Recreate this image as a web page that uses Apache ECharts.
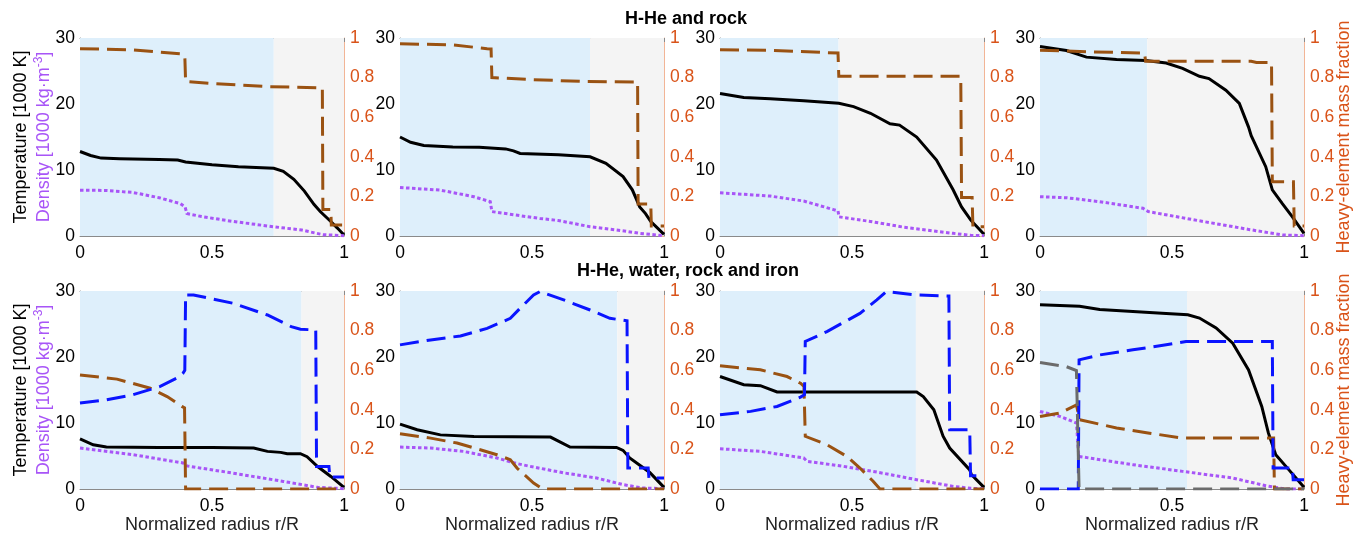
<!DOCTYPE html>
<html>
<head>
<meta charset="utf-8">
<title>Interior profiles</title>
<script src="https://cdn.jsdelivr.net/npm/echarts/dist/echarts.min.js"></script>
<style>
  html, body { margin: 0; padding: 0; background: #ffffff; }
  #chart { width: 1368px; height: 535px; }
</style>
</head>
<body>
<div id="chart"></div>
<script>
// ---- Profiles: [normalized radius r/R, value] ----
// Temperature in 1000 K, density in 1000 kg/m^3 (left axis); mass fractions (right axis)

// Row 1: H-He and rock
const temperature1 = [[0,12.8],[0.04,12.2],[0.08,11.8],[0.15,11.7],[0.3,11.6],[0.37,11.5],[0.4,11.2],[0.5,10.8],[0.6,10.5],[0.734,10.25],[0.77,9.8],[0.81,8.6],[0.85,6.8],[0.886,4.8],[0.91,3.7],[0.95,2.2],[0.975,1.2],[1,0.15]];
const density1 = [[0,6.95],[0.1,6.9],[0.2,6.6],[0.3,5.8],[0.38,4.9],[0.398,4.4],[0.405,3.4],[0.46,2.95],[0.58,2.2],[0.734,1.4],[0.84,0.9],[0.92,0.2],[1,0.05]];
const rock1 = [[0,0.946],[0.2,0.94],[0.38,0.92],[0.397,0.91],[0.4,0.78],[0.5,0.77],[0.7,0.755],[0.918,0.748],[0.92,0.134],[0.95,0.134],[0.952,0.055],[1,0.055]];

const temperature2 = [[0,15.0],[0.04,14.2],[0.09,13.7],[0.2,13.5],[0.3,13.45],[0.4,13.2],[0.43,12.9],[0.455,12.5],[0.6,12.3],[0.72,12.0],[0.78,11.0],[0.845,9.0],[0.88,7.0],[0.908,4.4],[0.93,3.4],[0.95,2.2],[1,0.25]];
const density2 = [[0,7.35],[0.153,6.95],[0.28,5.95],[0.342,5.2],[0.348,3.7],[0.53,2.65],[0.6,2.35],[0.72,1.4],[0.85,0.75],[0.908,0.4],[1,0.05]];
const rock2 = [[0,0.971],[0.2,0.965],[0.33,0.946],[0.345,0.945],[0.348,0.80],[0.5,0.79],[0.7,0.78],[0.9,0.778],[0.902,0.161],[0.95,0.161],[0.952,0.05],[1,0.05]];

const temperature3 = [[0,21.6],[0.09,21.0],[0.19,20.8],[0.317,20.5],[0.45,20.1],[0.506,19.6],[0.57,18.6],[0.644,17.0],[0.68,16.8],[0.745,15.0],[0.82,11.5],[0.883,7.0],[0.915,4.4],[0.95,2.4],[1,0.25]];
const density3 = [[0,6.55],[0.19,6.05],[0.317,5.3],[0.43,4.0],[0.447,3.8],[0.451,2.9],[0.57,2.2],[0.694,1.35],[0.883,0.4],[0.95,0.1],[1,0.05]];
const rock3 = [[0,0.941],[0.2,0.937],[0.447,0.924],[0.45,0.807],[0.7,0.807],[0.912,0.807],[0.915,0.195],[0.955,0.195],[0.958,0.047],[1,0.047]];

const temperature4 = [[0,28.7],[0.1,28.1],[0.176,27.1],[0.29,26.75],[0.4,26.6],[0.478,26.2],[0.54,25.4],[0.604,24.2],[0.64,23.85],[0.704,22.1],[0.755,20.1],[0.79,16.5],[0.8,15.2],[0.855,10.5],[0.88,7.0],[0.918,4.9],[0.956,2.9],[1,0.4]];
const density4 = [[0,5.95],[0.1,5.8],[0.226,5.2],[0.39,4.2],[0.41,3.7],[0.604,2.3],[0.79,1.0],[0.918,0.15],[1,0.05]];
const rock4 = [[0,0.938],[0.2,0.93],[0.396,0.924],[0.4,0.882],[0.6,0.882],[0.8,0.882],[0.82,0.876],[0.877,0.876],[0.88,0.274],[0.96,0.274],[0.963,0.05],[1,0.05]];

// Row 2: H-He, water, rock and iron
const temperature5 = [[0,7.6],[0.05,6.7],[0.1,6.35],[0.3,6.3],[0.5,6.3],[0.658,6.2],[0.71,5.7],[0.76,5.55],[0.785,5.35],[0.835,5.35],[0.86,4.9],[0.9,3.4],[0.95,1.9],[1,0.25]];
const density5 = [[0,6.2],[0.2,5.2],[0.39,3.95],[0.405,3.5],[0.58,2.4],[0.77,1.15],[0.9,0.25],[1,0.05]];
const rock5 = [[0,0.576],[0.14,0.555],[0.266,0.509],[0.33,0.467],[0.386,0.417],[0.396,0.41],[0.4,0],[1,0]];
const water5 = [[0,0.434],[0.1,0.45],[0.2,0.476],[0.304,0.518],[0.367,0.56],[0.39,0.585],[0.397,0.6],[0.4,0.98],[0.43,0.98],[0.58,0.938],[0.71,0.879],[0.8,0.82],[0.835,0.807],[0.893,0.803],[0.896,0.114],[0.943,0.114],[0.946,0.06],[1,0.06]];

const temperature6 = [[0,9.83],[0.065,8.98],[0.153,8.2],[0.28,7.97],[0.57,7.87],[0.644,6.35],[0.82,6.3],[0.845,5.85],[0.87,4.7],[0.946,2.5],[1,0.25]];
const density6 = [[0,6.35],[0.116,6.2],[0.24,5.7],[0.367,4.7],[0.443,3.85],[0.49,3.45],[0.62,2.45],[0.745,1.66],[0.845,0.66],[0.92,0.15],[1,0.05]];
const rock6 = [[0,0.279],[0.116,0.257],[0.216,0.232],[0.304,0.198],[0.367,0.173],[0.418,0.148],[0.443,0.106],[0.506,0.03],[0.54,0],[1,0]];
const water6 = [[0,0.728],[0.116,0.753],[0.229,0.773],[0.33,0.811],[0.418,0.862],[0.455,0.913],[0.506,0.98],[0.53,0.997],[0.62,0.955],[0.72,0.904],[0.795,0.862],[0.86,0.85],[0.863,0.106],[0.94,0.106],[0.943,0.055],[1,0.055]];

const temperature7 = [[0,17.05],[0.09,15.8],[0.153,15.65],[0.216,14.7],[0.5,14.7],[0.745,14.7],[0.77,14.0],[0.81,12.0],[0.845,8.0],[0.87,6.2],[0.946,2.9],[0.952,2.2],[1,0.25]];
const density7 = [[0,6.1],[0.153,5.7],[0.317,4.7],[0.33,4.2],[0.468,3.43],[0.594,2.57],[0.745,1.41],[0.883,0.4],[0.95,0.1],[1,0.05]];
const rock7 = [[0,0.622],[0.153,0.602],[0.254,0.568],[0.305,0.534],[0.318,0.518],[0.323,0.266],[0.405,0.224],[0.48,0.165],[0.53,0.106],[0.58,0.039],[0.606,0],[1,0]];
const water7 = [[0,0.375],[0.116,0.392],[0.216,0.417],[0.305,0.464],[0.32,0.476],[0.323,0.745],[0.405,0.795],[0.53,0.887],[0.594,0.955],[0.63,0.997],[0.745,0.98],[0.867,0.975],[0.87,0.299],[0.946,0.299],[0.949,0.067],[1,0.067]];

const temperature8 = [[0,27.9],[0.15,27.7],[0.226,27.2],[0.352,26.9],[0.478,26.6],[0.56,26.4],[0.604,25.9],[0.667,24.4],[0.73,22.1],[0.79,18.05],[0.84,12.5],[0.865,8.5],[0.893,5.2],[0.943,2.9],[1,0.25]];
const density8 = [[0,11.75],[0.075,11.0],[0.138,10.0],[0.147,4.94],[0.352,3.68],[0.54,2.67],[0.73,1.66],[0.855,0.5],[0.93,0],[1,0]];
const rock8 = [[0,0.366],[0.075,0.383],[0.138,0.425],[0.145,0.43],[0.15,0.35],[0.29,0.308],[0.415,0.282],[0.54,0.257],[0.885,0.257],[0.888,0],[1,0]];
const water8 = [[0,0],[0.145,0],[0.148,0.652],[0.226,0.677],[0.352,0.703],[0.478,0.728],[0.553,0.745],[0.88,0.745],[0.883,0.106],[0.956,0.106],[0.959,0.047],[1,0.047]];
const iron8 = [[0,0.639],[0.1,0.618],[0.138,0.598],[0.148,0],[1,0]];

// Outer edge of the convective (shaded blue) region, r/R
const convectiveEdge = [0.734, 0.72, 0.449, 0.406, 0.839, 0.823, 0.742, 0.557];

const rowTitles = ['H-He and rock', 'H-He, water, rock and iron'];
const xTicks = [0, 0.5, 1];

// ---- Styling ----
const FONT = '"Liberation Sans", Helvetica, Arial, sans-serif';
const C_TEMP = '#000000';
const C_DENS = '#A855F7';
const C_ROCK = '#9A5212';
const C_WATER = '#0A14FF';
const C_IRON = '#6B6B6B';
const C_RIGHT = '#D95319';
const C_SPINE = '#8a8a8a';
const C_SPINE_R = '#F2B596';
const BG_CONV = '#DEEFFB';
const BG_RAD = '#F4F4F4';
const TICK_FS = 17.5;

const panels = [
  { temp: temperature1, dens: density1, rock: rock1 },
  { temp: temperature2, dens: density2, rock: rock2 },
  { temp: temperature3, dens: density3, rock: rock3 },
  { temp: temperature4, dens: density4, rock: rock4 },
  { temp: temperature5, dens: density5, rock: rock5, water: water5 },
  { temp: temperature6, dens: density6, rock: rock6, water: water6 },
  { temp: temperature7, dens: density7, rock: rock7, water: water7 },
  { temp: temperature8, dens: density8, rock: rock8, water: water8, iron: iron8 }
];

const gridLefts = [80, 400, 720, 1040];
const gridTops = [38, 291];
const GRID_W = 264, GRID_H = 198;

const grids = [], xAxes = [], yAxes = [], series = [];

panels.forEach((p, i) => {
  const row = Math.floor(i / 4), col = i % 4;
  grids.push({ left: gridLefts[col], top: gridTops[row], width: GRID_W, height: GRID_H });

  const tickStyle = { show: true, inside: true, length: 4, lineStyle: { color: C_SPINE, width: 1 } };
  xAxes.push({
    gridIndex: i, type: 'value', min: xTicks[0], max: xTicks[xTicks.length - 1], interval: 0.5,
    position: 'bottom',
    axisLine: { show: true, onZero: false, lineStyle: { color: C_SPINE, width: 1 } },
    axisTick: tickStyle,
    splitLine: { show: false },
    axisLabel: { color: '#000', fontSize: TICK_FS, fontFamily: FONT, margin: 8 },
    name: row === 1 ? 'Normalized radius r/R' : '',
    nameLocation: 'middle', nameGap: 27,
    nameTextStyle: { color: '#222', fontSize: 18, fontFamily: FONT }
  });
  xAxes.push({
    gridIndex: i, type: 'value', min: 0, max: 1, interval: 0.5, position: 'top',
    axisLine: { show: true, onZero: false, lineStyle: { color: C_SPINE, width: 1 } },
    axisTick: tickStyle, axisLabel: { show: false }, splitLine: { show: false }
  });
  yAxes.push({
    gridIndex: i, type: 'value', min: 0, max: 30, interval: 10, position: 'left',
    axisLine: { show: true, onZero: false, lineStyle: { color: C_SPINE, width: 1 } },
    axisTick: tickStyle, splitLine: { show: false },
    axisLabel: { color: '#000', fontSize: TICK_FS, fontFamily: FONT, margin: 5 }
  });
  yAxes.push({
    gridIndex: i, type: 'value', min: 0, max: 1, interval: 0.2, position: 'right',
    axisLine: { show: true, onZero: false, lineStyle: { color: C_SPINE_R, width: 1 } },
    axisTick: { show: true, inside: true, length: 4, lineStyle: { color: C_SPINE_R, width: 1 } },
    splitLine: { show: false },
    axisLabel: { color: C_RIGHT, fontSize: TICK_FS, fontFamily: FONT, margin: 6 }
  });

  const xl = 2 * i, yl = 2 * i, yr = 2 * i + 1;
  const edge = convectiveEdge[i];

  // shaded convective / radiative regions
  series.push({
    type: 'line', xAxisIndex: xl, yAxisIndex: yl, data: [], z: 1, silent: true,
    markArea: {
      silent: true,
      data: [
        [{ xAxis: 0, itemStyle: { color: BG_CONV } }, { xAxis: edge }],
        [{ xAxis: edge, itemStyle: { color: BG_RAD } }, { xAxis: 1 }]
      ]
    }
  });

  const line = (data, yIdx, color, type, width, z) => ({
    type: 'line', xAxisIndex: xl, yAxisIndex: yIdx, data: data, z: z,
    symbol: 'none', showSymbol: false, silent: true,
    lineStyle: { color: color, width: width, type: type, cap: 'butt', join: 'miter' }
  });

  series.push(line(p.temp, yl, C_TEMP, 'solid', 3, 3));
  series.push(line(p.dens, yl, C_DENS, [3.5, 2.5], 3, 4));
  series.push(line(p.rock, yr, C_ROCK, [19, 8], 3, 5));
  if (p.water) series.push(line(p.water, yr, C_WATER, [19, 8], 3, 6));
  if (p.iron) series.push(line(p.iron, yr, C_IRON, [19, 8], 3, 7));
});

// Axis titles and row headings
const graphics = [];
const rowCenters = gridTops.map(t => t + GRID_H / 2);
const leftRich = {
  t: { fill: '#000', fontSize: 18, fontFamily: FONT, lineHeight: 23 },
  d: { fill: C_DENS, fontSize: 18, fontFamily: FONT, lineHeight: 23 },
  s: { fill: C_DENS, fontSize: 12, fontFamily: FONT, lineHeight: 9, verticalAlign: 'top' }
};
rowCenters.forEach((cy, r) => {
  graphics.push({
    type: 'text', x: 33, y: cy, rotation: Math.PI / 2, silent: true,
    style: {
      text: '{t|Temperature [1000 K]}\n{d|Density [1000 kg·m}{s|-3}{d|]}',
      rich: leftRich, align: 'center', verticalAlign: 'middle'
    }
  });
  graphics.push({
    type: 'text', x: 1344, y: cy, rotation: Math.PI / 2, silent: true,
    style: {
      text: 'Heavy-element mass fraction', fill: C_RIGHT, fontSize: 18, fontFamily: FONT,
      align: 'center', verticalAlign: 'middle'
    }
  });
  graphics.push({
    type: 'text', x: r === 0 ? 686 : 688, y: r === 0 ? 19 : 271, silent: true,
    style: {
      text: rowTitles[r], fill: '#000', fontSize: 18, fontWeight: 'bold', fontFamily: FONT,
      align: 'center', verticalAlign: 'middle'
    }
  });
});

const chart = echarts.init(document.getElementById('chart'), null, { renderer: 'canvas' });
chart.setOption({
  animation: false,
  backgroundColor: '#ffffff',
  textStyle: { fontFamily: FONT },
  grid: grids,
  xAxis: xAxes,
  yAxis: yAxes,
  series: series,
  graphic: graphics
});
</script>
</body>
</html>
